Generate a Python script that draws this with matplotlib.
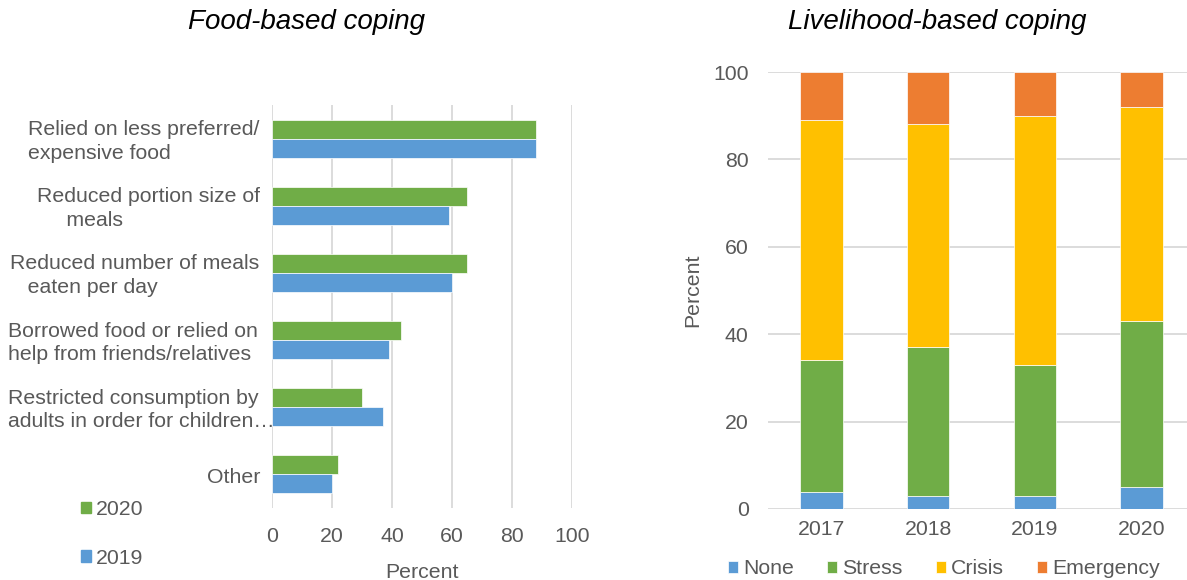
import matplotlib
matplotlib.use("Agg")
import matplotlib.pyplot as plt
import numpy as np
from matplotlib.patches import Patch

plt.rcParams['font.family'] = ['Liberation Sans', 'DejaVu Sans']

# ---- data ----
food_categories = [
    "Relied on less preferred/\nexpensive food",
    "Reduced portion size of\n     meals",
    "Reduced number of meals\n   eaten per day",
    "Borrowed food or relied on\nhelp from friends/relatives",
    "Restricted consumption by\nadults in order for children…",
    "Other",
]
food_2020 = [88, 65, 65, 43, 30, 22]
food_2019 = [88, 59, 60, 39, 37, 20]
food_xticks = [0, 20, 40, 60, 80, 100]

years = ["2017", "2018", "2019", "2020"]
none_vals = [4, 3, 3, 5]
stress_vals = [30, 34, 30, 38]
crisis_vals = [55, 51, 57, 49]
emergency_vals = [11, 12, 10, 8]
live_yticks = [0, 20, 40, 60, 80, 100]

GREEN = "#70AD47"
BLUE = "#5B9BD5"
YELLOW = "#FFC000"
ORANGE = "#ED7D31"
GRID = "#D9D9D9"
TXT = "#595959"
FS = 15.3

W, H = 1187, 580
fig = plt.figure(figsize=(W / 100, H / 100), dpi=100)

def ax_rect(x0, y_top, x1, y_bot):
    return [x0 / W, 1 - y_bot / H, (x1 - x0) / W, (y_bot - y_top) / H]

# ---- left chart ----
AX1_L, AX1_R = 272, 572
ax1 = fig.add_axes(ax_rect(AX1_L, 105, AX1_R, 508))
y = np.arange(len(food_categories))
h = 0.283
ax1.barh(y - h / 2, food_2020, height=h, color=GREEN, edgecolor="white", linewidth=0.5, zorder=3)
ax1.barh(y + h / 2, food_2019, height=h, color=BLUE, edgecolor="white", linewidth=0.5, zorder=3)
ax1.set_ylim(len(food_categories) - 0.5, -0.5)
ax1.set_xlim(0, 100)
ax1.set_xticks(food_xticks)
ax1.set_yticks(y)
ax1.set_yticklabels([])
# category labels: left-aligned blocks (as in the source chart)
label_left_px = [28, 37, 10, 8, 8, 207]
for yi, lab, lx in zip(y, food_categories, label_left_px):
    ax1.text((lx - AX1_L) / (AX1_R - AX1_L), yi + 0.04, lab, transform=ax1.get_yaxis_transform(),
             ha="left", va="center", multialignment="left", fontsize=FS, color=TXT,
             linespacing=1.3, clip_on=False)
ax1.grid(axis="x", color=GRID, linewidth=1.3, zorder=0)
for s in ax1.spines.values():
    s.set_visible(False)
ax1.tick_params(axis="both", length=0, labelsize=FS, labelcolor=TXT)
ax1.tick_params(axis="x", pad=14)
ax1.set_xlabel("Percent", fontsize=FS, color=TXT, labelpad=12)

fig.text(307 / W, 1 - 22 / H, "Food-based coping", ha="center", va="center",
         fontsize=20, style="italic", color="black")

fig.legend(handles=[Patch(color=GREEN, label="2020"), Patch(color=BLUE, label="2019")],
           loc="center left", bbox_to_anchor=(80.5 / W, 1 - 534 / H),
           frameon=False, fontsize=FS, handlelength=0.48, handleheight=0.48,
           handletextpad=0.24, labelspacing=1.4, labelcolor=TXT, borderpad=0,
           borderaxespad=0)

# ---- right chart ----
ax2 = fig.add_axes(ax_rect(768, 72, 1195, 509))
x = np.arange(len(years))
bw = 0.4
b0 = np.zeros(len(years))
for vals, col, lab in [(none_vals, BLUE, "None"), (stress_vals, GREEN, "Stress"),
                       (crisis_vals, YELLOW, "Crisis"), (emergency_vals, ORANGE, "Emergency")]:
    ax2.bar(x, vals, bottom=b0, width=bw, color=col, edgecolor="white", linewidth=0.5,
            label=lab, zorder=3)
    b0 = b0 + np.array(vals)
ax2.set_xlim(-0.5, len(years) - 0.5)
ax2.set_ylim(0, 100)
ax2.set_yticks(live_yticks)
ax2.set_xticks(x)
ax2.set_xticklabels(years)
ax2.grid(axis="y", color=GRID, linewidth=1.3, zorder=0)
for s in ax2.spines.values():
    s.set_visible(False)
ax2.tick_params(axis="both", length=0, labelsize=FS, labelcolor=TXT)
ax2.tick_params(axis="y", pad=14)
ax2.tick_params(axis="x", pad=8)
ax2.set_ylabel("Percent", fontsize=FS, color=TXT)
ax2.yaxis.set_label_coords((702 - 768) / 427, 0.5)

fig.text(937 / W, 1 - 22 / H, "Livelihood-based coping", ha="center", va="center",
         fontsize=20, style="italic", color="black")

h2, l2 = ax2.get_legend_handles_labels()
fig.legend(h2, l2, loc="center left", bbox_to_anchor=(728 / W, 1 - 569 / H), ncol=4,
           frameon=False, fontsize=FS, handlelength=0.48, handleheight=0.48,
           handletextpad=0.24, columnspacing=1.55, labelcolor=TXT, borderpad=0,
           borderaxespad=0)

fig.savefig("out.png", dpi=100)
